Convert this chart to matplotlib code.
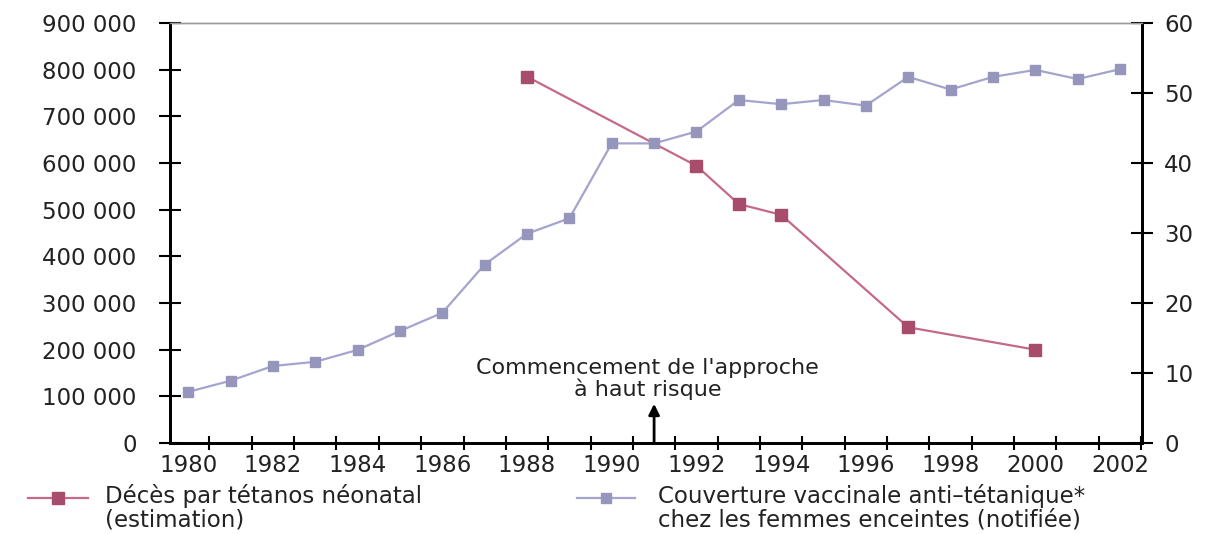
import numpy as np
import matplotlib
matplotlib.use("Agg")
import matplotlib.pyplot as plt
from matplotlib.lines import Line2D
from matplotlib.ticker import FuncFormatter, FixedLocator

# === Data ===
annees = list(range(1980, 2003))
couverture = [7.3, 8.9, 11.0, 11.6, 13.3, 16.0, 18.6, 25.5, 29.9, 32.1, 42.8, 42.8,
              44.5, 49.0, 48.4, 49.0, 48.2, 52.3, 50.5, 52.3, 53.3, 52.0, 53.4]

annees_deces = [1988, 1992, 1993, 1994, 1997, 2000]
deces = [785000, 594000, 512000, 489000, 248000, 200000]

etiquettes_x = [str(a) for a in annees if a % 2 == 0]
ticks_gauche = [0, 100000, 200000, 300000, 400000, 500000, 600000, 700000, 800000, 900000]
ticks_droite = [0, 10, 20, 30, 40, 50, 60]

label_deces = "Décès par tétanos néonatal\n(estimation)"
label_couv = "Couverture vaccinale anti\u2013tétanique*\nchez les femmes enceintes (notifiée)"
note = "Commencement de l'approche\nà haut risque"

# colours
ROSE_LIGNE = "#c46a88"
ROSE_MARQ = "#a84c6c"
BLEU_LIGNE = "#a4a4cf"
BLEU_MARQ = "#9696bd"
TXT = "#222222"

plt.rcParams["font.family"] = ["DejaVu Sans"]

W, H = 1212, 534
fig = plt.figure(figsize=(W / 100, H / 100), dpi=100)
ax = fig.add_axes([170 / W, 1 - 443 / H, (1142 - 170) / W, (443 - 23) / H])
ax2 = ax.twinx()

x_all = np.arange(len(annees))
x_deces = np.array(annees_deces) - annees[0]

# === Lines ===
ax.plot(x_deces, deces, color=ROSE_LIGNE, lw=1.6, marker="s", markersize=8,
        markerfacecolor=ROSE_MARQ, markeredgecolor=ROSE_MARQ, zorder=3)
ax2.plot(x_all, couverture, color=BLEU_LIGNE, lw=1.6, marker="s", markersize=6.5,
         markerfacecolor=BLEU_MARQ, markeredgecolor=BLEU_MARQ, zorder=3)

# === Axes ===
ax.set_xlim(-0.43, 22.52)
ax.set_ylim(0, 900000)
ax2.set_ylim(0, 60)

ax.set_yticks(ticks_gauche)
ax.yaxis.set_major_formatter(FuncFormatter(lambda v, p: f"{int(v):,}".replace(",", " ")))
ax2.set_yticks(ticks_droite)

ax.set_xticks([a - annees[0] for a in annees if a % 2 == 0])
ax.set_xticklabels(etiquettes_x)
ax.xaxis.set_minor_locator(FixedLocator(np.arange(0.5, 22.6, 1.0)))

ax.tick_params(axis="x", which="major", length=0, pad=8, labelsize=16.5, labelcolor=TXT)
ax.tick_params(axis="x", which="minor", direction="inout", length=10, width=1.5, color="black")
ax.tick_params(axis="y", direction="inout", length=16, width=1.5, pad=16,
               labelsize=16.5, labelcolor=TXT)
ax2.tick_params(axis="y", direction="inout", length=16, width=1.5, pad=8,
                labelsize=16.5, labelcolor=TXT)

for a in (ax, ax2):
    a.spines["top"].set_color("#9a9a9a")
    a.spines["top"].set_linewidth(1.0)
    a.spines["left"].set_linewidth(2.0)
    a.spines["right"].set_linewidth(2.0)
    a.spines["bottom"].set_linewidth(2.0)

# === Annotation ===
ax.annotate("", xy=(11, 84000), xytext=(11, 0),
            arrowprops=dict(arrowstyle="-|>", color="black", lw=2, mutation_scale=16,
                            shrinkA=0, shrinkB=0))
ax.text(10.85, 137000, note, ha="center", va="center", fontsize=16, color=TXT,
        linespacing=1.05)

# === Legend (handles aligned with the first line of each label) ===
y_leg = 1 - 498 / H
for x0, x1, col, mcol, ms in [(28, 88, ROSE_LIGNE, ROSE_MARQ, 8),
                              (577, 635, BLEU_LIGNE, BLEU_MARQ, 6.5)]:
    fig.add_artist(Line2D([x0 / W, x1 / W], [y_leg, y_leg], transform=fig.transFigure,
                          color=col, lw=1.6))
    fig.add_artist(Line2D([(x0 + x1) / 2 / W], [y_leg], transform=fig.transFigure,
                          marker="s", markersize=ms, markerfacecolor=mcol,
                          markeredgecolor=mcol, lw=0))

fig.text(105 / W, 1 - 484 / H, label_deces, ha="left", va="top", fontsize=16.5,
         color=TXT, linespacing=1.05)
fig.text(658 / W, 1 - 484 / H, label_couv, ha="left", va="top", fontsize=16.5,
         color=TXT, linespacing=1.05)

fig.savefig("out.png", dpi=100)
